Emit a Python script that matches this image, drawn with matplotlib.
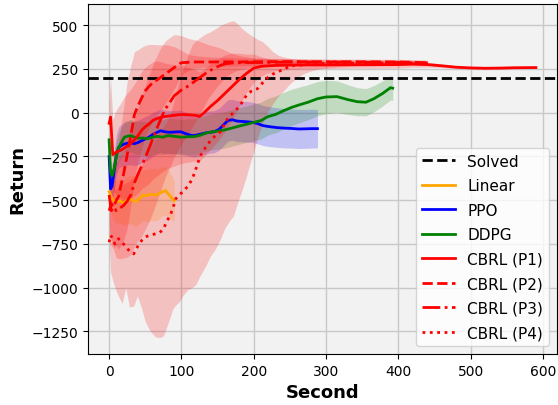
import numpy as np
import matplotlib
matplotlib.use("Agg")
import matplotlib.pyplot as plt

# ---------------- data ----------------
solved = 200

lin_x = [0, 2, 5, 9, 15, 20, 25, 30, 37, 42, 47, 52, 57, 62, 67, 72, 78, 83, 87, 90]
lin_y = [-452, -470, -500, -509, -505, -515, -500, -495, -509, -490, -470, -475, -465, -470, -468, -455, -445, -470, -490, -503]
lin_s = [40, 80, 110, 120, 125, 130, 135, 140, 140, 145, 145, 150, 150, 150, 145, 140, 140, 135, 125, 115]

ppo_x = [0, 2, 4, 7, 10, 13, 16, 20, 25, 30, 35, 40, 45, 50, 55, 60, 65, 71, 78, 85, 92, 99, 106, 112, 117, 124,
         131, 138, 145, 152, 158, 164, 170, 177, 184, 191, 198, 205, 213, 222, 232, 242, 252, 262, 272, 280, 288]
ppo_y = [-250, -435, -420, -330, -240, -200, -189, -180, -175, -172, -177, -170, -160, -150, -140, -125, -115, -103,
         -110, -112, -110, -109, -120, -128, -131, -125, -118, -112, -109, -95, -70, -45, -40, -48, -50, -52, -55,
         -62, -74, -80, -85, -88, -90, -93, -92, -91, -91]
ppo_s = [60, 90, 100, 110, 115, 118, 120, 122, 124, 125, 126, 127, 128, 128, 127, 126, 125, 124, 124, 124, 124, 123,
         123, 122, 122, 122, 122, 121, 121, 120, 119, 118, 117, 117, 116, 116, 115, 115, 114, 114, 113, 113, 112,
         112, 111, 111, 110]

ddpg_x = [0, 2, 4, 7, 10, 13, 17, 21, 25, 30, 35, 40, 47, 53, 60, 67, 74, 81, 90, 100, 110, 117, 125, 135, 145, 154,
          163, 172, 182, 191, 200, 210, 219, 230, 241, 252, 263, 275, 288, 300, 315, 330, 343, 355, 366, 378, 389, 392]
ddpg_y = [-155, -338, -360, -320, -245, -200, -170, -140, -135, -131, -140, -145, -145, -149, -140, -135, -140, -131,
          -135, -140, -137, -137, -130, -115, -108, -103, -95, -85, -74, -65, -55, -45, -23, -10, 11, 30, 45, 60, 80,
          90, 92, 75, 63, 60, 80, 110, 143, 140]
ddpg_s = [40, 60, 70, 75, 80, 82, 85, 88, 90, 92, 94, 95, 96, 97, 98, 99, 100, 100, 101, 101, 102, 102, 102, 103, 103,
          103, 104, 104, 104, 104, 105, 105, 105, 105, 105, 104, 102, 100, 98, 95, 90, 85, 80, 78, 75, 72, 70, 70]

p1_x = [0, 2, 5, 8, 12, 16, 20, 25, 30, 35, 40, 45, 50, 55, 60, 65, 70, 75, 80, 90, 100, 110, 120, 125, 130, 140,
        150, 160, 170, 180, 190, 200, 210, 220, 230, 250, 270, 300, 330, 360, 400, 420, 440, 460, 480, 500, 520,
        540, 560, 590]
p1_y = [-60, -25, -240, -230, -220, -215, -205, -190, -175, -155, -130, -100, -80, -65, -45, -35, -28, -23, -20, -15,
        -10, -12, -15, -22, -5, 35, 70, 110, 150, 190, 225, 255, 265, 268, 270, 272, 273, 273, 274, 274, 275, 278,
        275, 268, 260, 256, 254, 255, 257, 258]
p1_s = [120, 220, 200, 230, 250, 270, 290, 300, 310, 320, 330, 335, 340, 340, 335, 330, 320, 310, 300, 290, 280, 270,
        260, 255, 250, 245, 235, 220, 190, 150, 110, 80, 55, 40, 30, 25, 22, 20, 20, 20, 20, 18, 15, 10, 8, 6, 5,
        5, 5, 5]

p2_x = [0, 3, 6, 10, 13, 16, 20, 25, 30, 35, 40, 45, 50, 55, 60, 70, 80, 90, 100, 110, 120, 140, 160, 180, 200, 250,
        300, 350, 400, 420, 440]
p2_y = [-560, -520, -540, -500, -480, -420, -350, -240, -130, -10, 40, 85, 125, 150, 170, 198, 228, 258, 286, 288,
        290, 290, 291, 290, 291, 292, 290, 291, 290, 288, 285]
p2_s = [150, 200, 230, 260, 300, 340, 380, 420, 400, 360, 320, 290, 260, 240, 220, 190, 160, 120, 70, 45, 35, 28,
        25, 22, 20, 18, 16, 15, 15, 15, 15]

p3_x = [0, 3, 6, 10, 15, 20, 25, 30, 35, 40, 45, 50, 56, 63, 70, 77, 84, 90, 100, 110, 120, 129, 138, 147, 155, 161,
        170, 180, 200, 250, 300, 350, 400, 440]
p3_y = [-470, -560, -540, -560, -545, -530, -505, -470, -400, -350, -305, -255, -195, -120, -50, 17, 60, 97, 130,
        154, 185, 212, 238, 258, 272, 280, 284, 286, 287, 289, 290, 288, 287, 284]
p3_s = [150, 200, 240, 270, 290, 300, 320, 340, 360, 380, 400, 410, 420, 420, 410, 390, 370, 350, 310, 270, 230,
        190, 150, 120, 95, 75, 55, 40, 25, 18, 15, 15, 15, 15]

p4_x = [0, 2, 5, 8, 13, 18, 23, 28, 34, 39, 45, 50, 57, 64, 70, 75, 80, 85, 88, 92, 97, 103, 109, 115, 120, 126, 133,
        140, 147, 154, 160, 166, 172, 177, 184, 190, 197, 205, 212, 219, 226, 233, 240, 251, 260, 270, 280, 290,
        300, 320, 350, 380, 420, 440]
p4_y = [-740, -700, -720, -750, -720, -740, -767, -790, -807, -767, -730, -709, -700, -692, -685, -664, -620, -580,
        -549, -492, -470, -446, -420, -378, -320, -246, -200, -160, -130, -109, -60, -20, 0, 23, 60, 100, 125, 137,
        170, 200, 220, 234, 245, 269, 270, 275, 278, 280, 282, 283, 284, 285, 284, 283]
p4_lo = [-720, -910, -960, -1000, -1050, -1090, -1000, -1110, -1105, -1047, -1120, -1195, -1250, -1281, -1285, -1276,
         -1220, -1160, -1121, -1100, -1080, -1040, -1010, -1000, -980, -930, -880, -820, -778, -720, -660, -620,
         -589, -520, -440, -360, -260, -150, -60, 0, 50, 90, 120, 170, 200, 225, 240, 250, 255, 262, 270, 272, 275,
         275]
p4_hi = [-700, -300, -380, -440, -430, -415, -400, -390, -370, -340, -300, -260, -200, -150, -110, -80, -50, 0, 40,
         100, 180, 260, 330, 390, 412, 430, 450, 463, 480, 500, 510, 520, 526, 510, 480, 460, 440, 420, 406, 380,
         350, 330, 320, 310, 305, 300, 298, 296, 295, 294, 293, 292, 292, 292]

# ---------------- plot ----------------
fig = plt.figure(figsize=(5.58, 4.06), dpi=100)
ax = fig.add_axes([0.158, 0.126, 0.840, 0.862])
ax.set_facecolor('#f2f2f2')
ax.grid(True, color='#c8c8c8', linewidth=1.0)
ax.set_axisbelow(True)

alpha = 0.2


def band(x, y, s, color):
    y = np.asarray(y, float)
    s = np.asarray(s, float)
    ax.fill_between(x, y - s, y + s, color=color, alpha=alpha, linewidth=0)


band(lin_x, lin_y, lin_s, 'orange')
band(ppo_x, ppo_y, ppo_s, 'blue')
band(ddpg_x, ddpg_y, ddpg_s, 'green')
band(p1_x, p1_y, p1_s, 'red')
band(p2_x, p2_y, p2_s, 'red')
band(p3_x, p3_y, p3_s, 'red')
ax.fill_between(p4_x, p4_lo, p4_hi, color='red', alpha=alpha, linewidth=0)

ax.axhline(solved, color='black', linestyle='--', linewidth=2, label='Solved')
ax.plot(lin_x, lin_y, color='orange', linewidth=2, label='Linear')
ax.plot(ppo_x, ppo_y, color='blue', linewidth=2, label='PPO')
ax.plot(ddpg_x, ddpg_y, color='green', linewidth=2, label='DDPG')
ax.plot(p1_x, p1_y, color='red', linewidth=2, linestyle='-', label='CBRL (P1)')
ax.plot(p2_x, p2_y, color='red', linewidth=2, linestyle='--', label='CBRL (P2)')
ax.plot(p3_x, p3_y, color='red', linewidth=2, linestyle='-.', label='CBRL (P3)')
ax.plot(p4_x, p4_y, color='red', linewidth=2, linestyle=':', label='CBRL (P4)')

ax.set_xlim(-29, 619)
ax.set_ylim(-1378, 622)
ax.set_xticks([0, 100, 200, 300, 400, 500, 600])
ax.set_yticks([-1250, -1000, -750, -500, -250, 0, 250, 500])
ax.tick_params(labelsize=10)
ax.set_xlabel('Second', fontsize=13, fontweight='bold')
ax.set_ylabel('Return', fontsize=13, fontweight='bold')
ax.legend(loc='lower right', fontsize=11, labelspacing=0.62, handlelength=2.15)

fig.savefig('out.png', dpi=100)
